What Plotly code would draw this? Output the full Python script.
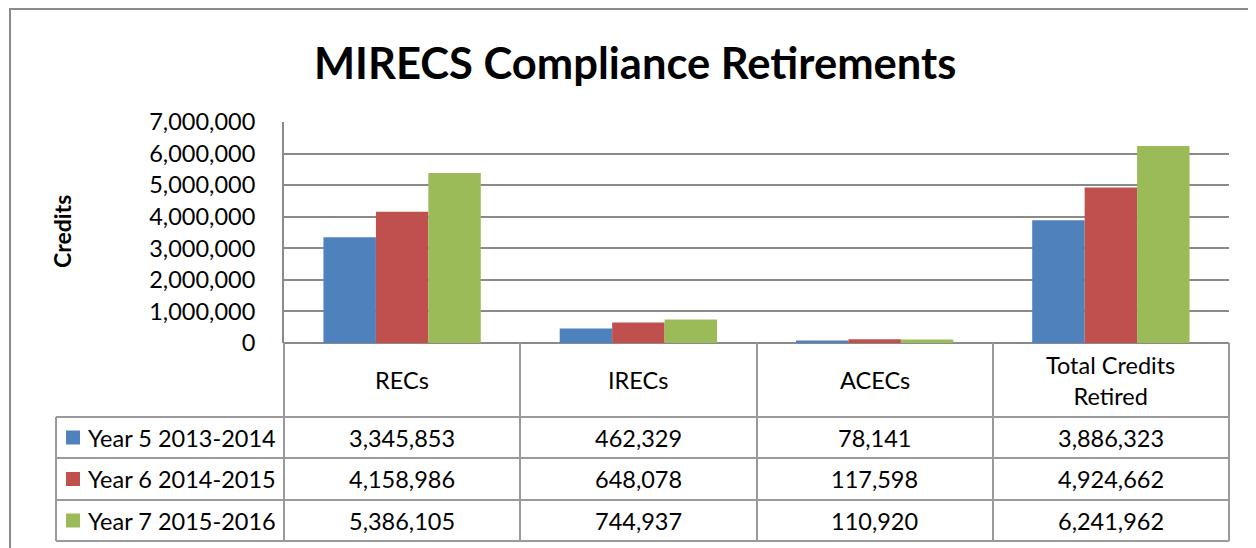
import plotly.graph_objects as go

categories = ["RECs", "IRECs", "ACECs", "Total Credits Retired"]
category_labels = ["RECs", "IRECs", "ACECs", "Total Credits<br>Retired"]
series_names = ["Year 5 2013-2014", "Year 6 2014-2015", "Year 7 2015-2016"]
year5 = [3345853, 462329, 78141, 3886323]
year6 = [4158986, 648078, 117598, 4924662]
year7 = [5386105, 744937, 110920, 6241962]
series_values = [year5, year6, year7]
colors = ["#4F81BD", "#C0504D", "#9BBB59"]
y_ticks = [0, 1000000, 2000000, 3000000, 4000000, 5000000, 6000000, 7000000]

OFF = 8  # default page body margin
W, H = 1256 - OFF, 548 - OFF
L, R, T, B = 284 - OFF, 1229 - OFF, 122 - OFF, 343 - OFF
pw, ph = R - L, B - T

def px(X):
    return (X - OFF - L) / pw

def py(Y):
    return (B - (Y - OFF)) / ph

FONT = "Lato"
GRID = "#8a8a8a"
LINE = "#9a9a9a"
TS = 23.5

fig = go.Figure()
for name, vals, c in zip(series_names, series_values, colors):
    fig.add_trace(go.Bar(x=categories, y=vals, name=name, marker=dict(color=c, line=dict(width=0))))

shapes = []
annotations = []

# outer chart border
shapes.append(dict(type="rect", xref="paper", yref="paper", x0=px(10), x1=px(1270),
                   y0=py(9), y1=py(560), line=dict(color="#8c8c8c", width=2), layer="below"))

# data table lines
row_lines = [343, 417, 458, 500, 541]
col_lines = [284, 520, 757, 993, 1229]
for Y in row_lines[1:]:
    shapes.append(dict(type="line", xref="paper", yref="paper", x0=px(56), x1=px(1229),
                       y0=py(Y), y1=py(Y), line=dict(color=LINE, width=2)))
for X in col_lines:
    shapes.append(dict(type="line", xref="paper", yref="paper", x0=px(X), x1=px(X),
                       y0=py(343), y1=py(541), line=dict(color=LINE, width=2)))
shapes.append(dict(type="line", xref="paper", yref="paper", x0=px(56), x1=px(56),
                   y0=py(417), y1=py(541), line=dict(color=LINE, width=2)))

# header labels
for cat, lab in zip(categories, category_labels):
    annotations.append(dict(x=cat, xref="x", y=py(380), yref="paper", text=lab, showarrow=False,
                            font=dict(family=FONT, size=TS, color="#000"), xanchor="center",
                            yanchor="middle", align="center"))

row_centers = [437.5, 479, 520.5]
for name, vals, c, Yc in zip(series_names, series_values, colors, row_centers):
    shapes.append(dict(type="rect", xref="paper", yref="paper", x0=px(66), x1=px(80),
                       y0=py(Yc - 7), y1=py(Yc + 7), fillcolor=c, line=dict(width=0)))
    annotations.append(dict(x=px(86), xref="paper", y=py(Yc), yref="paper", text=name, showarrow=False,
                            font=dict(family=FONT, size=TS, color="#000"), xanchor="left", yanchor="middle"))
    for cat, v in zip(categories, vals):
        annotations.append(dict(x=cat, xref="x", y=py(Yc), yref="paper", text=f"{v:,}", showarrow=False,
                                font=dict(family=FONT, size=TS, color="#000"), xanchor="center",
                                yanchor="middle"))

# title
annotations.append(dict(x=px(635), xref="paper", y=py(62), yref="paper", text="<b>MIRECS Compliance Retirements</b>",
                        showarrow=False, font=dict(family=FONT, size=43.5, color="#000"),
                        xanchor="center", yanchor="middle"))
# y-axis title
annotations.append(dict(x=px(62), xref="paper", y=py(232), yref="paper", text="<b>Credits</b>",
                        showarrow=False, textangle=-90, font=dict(family=FONT, size=23, color="#000"),
                        xanchor="center", yanchor="middle"))

fig.update_layout(
    width=W, height=H,
    margin=dict(l=L, r=W - R, t=T, b=H - B, pad=0),
    paper_bgcolor="white", plot_bgcolor="white",
    barmode="group", bargap=0.334, bargroupgap=0,
    showlegend=False,
    shapes=shapes, annotations=annotations,
    xaxis=dict(showticklabels=False, showgrid=False, showline=False, ticks="", zeroline=False),
    yaxis=dict(range=[0, 7000000], tickvals=y_ticks, ticktext=[f"{v:,}" for v in y_ticks],
               showgrid=True, gridcolor=GRID, gridwidth=2, showline=True, linecolor=GRID, linewidth=2,
               zeroline=True, zerolinecolor=GRID, zerolinewidth=2, ticks="", ticklabelstandoff=22,
               tickfont=dict(family=FONT, size=23.5, color="#000")),
)

fig.write_html("out.html")
